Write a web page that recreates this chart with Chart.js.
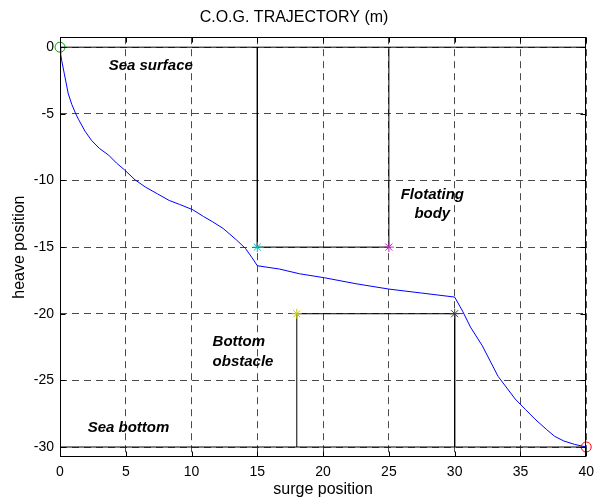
<!DOCTYPE html>
<html>
<head>
<meta charset="utf-8">
<script src="https://cdn.jsdelivr.net/npm/chart.js@4"></script>
<style>
  html, body { margin: 0; padding: 0; background: #fff; }
</style>
</head>
<body>
<canvas id="cog" width="601" height="500"></canvas>
<script>
// C.O.G. trajectory (surge, heave)
var trajX = [0, 0.05, 0.13, 0.33, 0.63, 0.9, 1.2, 1.4, 1.9, 2.4, 3.0, 3.7, 4.3, 4.9, 5.7, 6.5, 7.4, 8.3, 9.1, 10.1,
             10.9, 11.6, 12.4, 13.4, 14.1, 14.6, 15.0, 16.7, 18.2, 20.1, 22.5, 25.0, 27.5, 30.0, 30.6, 31.2,
             32.1, 33.3, 34.6, 35.4, 36.1, 37.0, 37.6, 38.3, 39.1, 40];
var trajY = [0, -0.5, -1.0, -2.0, -3.5, -4.3, -5.0, -5.4, -6.3, -7.0, -7.6, -8.1, -8.7, -9.2, -9.95, -10.5, -11.0, -11.5, -11.8, -12.2,
             -12.7, -13.1, -13.6, -14.45, -15.1, -15.8, -16.4, -16.65, -17.0, -17.3, -17.75, -18.15, -18.45, -18.75, -19.8, -21.0,
             -22.4, -24.7, -26.4, -27.2, -27.9, -28.7, -29.2, -29.55, -29.8, -30];

// sea surface / bottom, floating body and bottom obstacle outlines
var surfaceX = [0, 40];   var surfaceY = [0, 0];
var bottomX  = [0, 40];   var bottomY  = [-30, -30];
var bodyX = [15, 15, 25, 25];       var bodyY = [0, -15, -15, 0];
var obstacleX = [18, 18, 30, 30];   var obstacleY = [-30, -20, -20, -30];

// special points
var markX = [0, 15, 25, 18, 30, 40];
var markY = [0, -15, -15, -20, -20, -30];
var markStyle = ['circle', 'star', 'star', 'star', 'star', 'circle'];
var markColor = ['#00a000', '#00c0c0', '#c030c0', '#c8c800', '#404040', '#ff0000'];

var xTicks = [0, 5, 10, 15, 20, 25, 30, 35, 40];
var yTicks = [-30, -25, -20, -15, -10, -5, 0];

var noteText = ['Sea surface', 'Flotating', 'body', 'Bottom', 'obstacle', 'Sea bottom'];
var noteX = [3.7, 28.3, 28.3, 11.6, 11.6, 2.1];
var noteY = [-1.43, -11.05, -12.48, -22.1, -23.6, -28.6];
var noteAlign = ['left', 'center', 'center', 'left', 'left', 'left'];

var FONT = '"Liberation Sans", Arial, sans-serif';

function pts(xs, ys) {
	return xs.map(function (x, i) { return { x: x, y: ys[i] }; });
}

function outline(xs, ys) {
	return {
		data: pts(xs, ys),
		showLine: true,
		borderColor: '#000',
		borderWidth: 1,
		pointRadius: 0,
		fill: false
	};
}

var frame = {
	id: 'frame',
	afterDatasetsDraw: function (chart) {
		var ctx = chart.ctx, a = chart.chartArea;
		var xs = chart.scales.x, ys = chart.scales.y;
		var l = Math.round(a.left) + 0.5, r = Math.round(a.right) - 0.5;
		var t = Math.round(a.top) + 0.5, b = Math.round(a.bottom) - 0.5;
		ctx.save();
		ctx.setLineDash([]);
		ctx.strokeStyle = '#000';
		ctx.lineWidth = 1;
		ctx.strokeRect(l, t, r - l, b - t);
		ctx.beginPath();
		xTicks.forEach(function (v) {
			var px = Math.round(xs.getPixelForValue(v)) + 0.5;
			ctx.moveTo(px, b); ctx.lineTo(px, b - 5);
			ctx.moveTo(px, t); ctx.lineTo(px, t + 5);
		});
		yTicks.forEach(function (v) {
			var py = Math.round(ys.getPixelForValue(v)) + 0.5;
			ctx.moveTo(l, py); ctx.lineTo(l + 5, py);
			ctx.moveTo(r, py); ctx.lineTo(r - 5, py);
		});
		ctx.stroke();

		ctx.fillStyle = '#000';
		ctx.font = 'italic bold 15px ' + FONT;
		ctx.textBaseline = 'middle';
		noteText.forEach(function (txt, i) {
			ctx.textAlign = noteAlign[i];
			ctx.fillText(txt, xs.getPixelForValue(noteX[i]), ys.getPixelForValue(noteY[i]));
		});
		ctx.restore();
	}
};

var config = {
	type: 'scatter',
	data: {
		datasets: [{
			data: pts(markX, markY),
			pointStyle: markStyle,
			pointBorderColor: markColor,
			pointBackgroundColor: 'rgba(0,0,0,0)',
			pointBorderWidth: 1,
			pointRadius: 5,
			clip: false
		}, {
			data: pts(trajX, trajY),
			showLine: true,
			borderColor: '#0000ff',
			borderWidth: 1,
			pointRadius: 0,
			fill: false
		},
			outline(surfaceX, surfaceY),
			outline(bottomX, bottomY),
			outline(bodyX, bodyY),
			outline(obstacleX, obstacleY)
		]
	},
	options: {
		responsive: false,
		animation: false,
		layout: { padding: { left: 0, right: 13, top: 0, bottom: 0 } },
		plugins: {
			legend: { display: false },
			tooltip: { enabled: false },
			title: {
				display: true,
				text: 'C.O.G. TRAJECTORY (m)',
				color: '#000',
				font: { family: FONT, size: 16, weight: 'normal' },
				padding: { top: 8, bottom: 10 }
			}
		},
		scales: {
			x: {
				type: 'linear',
				min: 0,
				max: 40,
				afterBuildTicks: function (s) { s.ticks = xTicks.map(function (v) { return { value: v }; }); },
				afterFit: function (s) { s.height = 43; },
				grid: { color: '#4a4a4a', lineWidth: 1, drawTicks: false },
				border: { display: false, dash: [7, 5] },
				ticks: { color: '#000', padding: 7, maxRotation: 0, font: { family: FONT, size: 14 } },
				title: { display: true, text: 'surge position', color: '#000',
					font: { family: FONT, size: 16 }, padding: { top: 0, bottom: 1 } }
			},
			y: {
				type: 'linear',
				min: -30.75,
				max: 0.75,
				afterBuildTicks: function (s) { s.ticks = yTicks.map(function (v) { return { value: v }; }); },
				afterFit: function (s) { s.width = 60; },
				grid: { color: '#4a4a4a', lineWidth: 1, drawTicks: false },
				border: { display: false, dash: [7, 5] },
				ticks: { color: '#000', padding: 6, font: { family: FONT, size: 14 } },
				title: { display: true, text: 'heave position', color: '#000',
					font: { family: FONT, size: 16 }, padding: { top: 10, bottom: 0 } }
			}
		}
	},
	plugins: [frame]
};

var ctx = document.getElementById('cog').getContext('2d');
window.cogChart = new Chart(ctx, config);
</script>
</body>
</html>
